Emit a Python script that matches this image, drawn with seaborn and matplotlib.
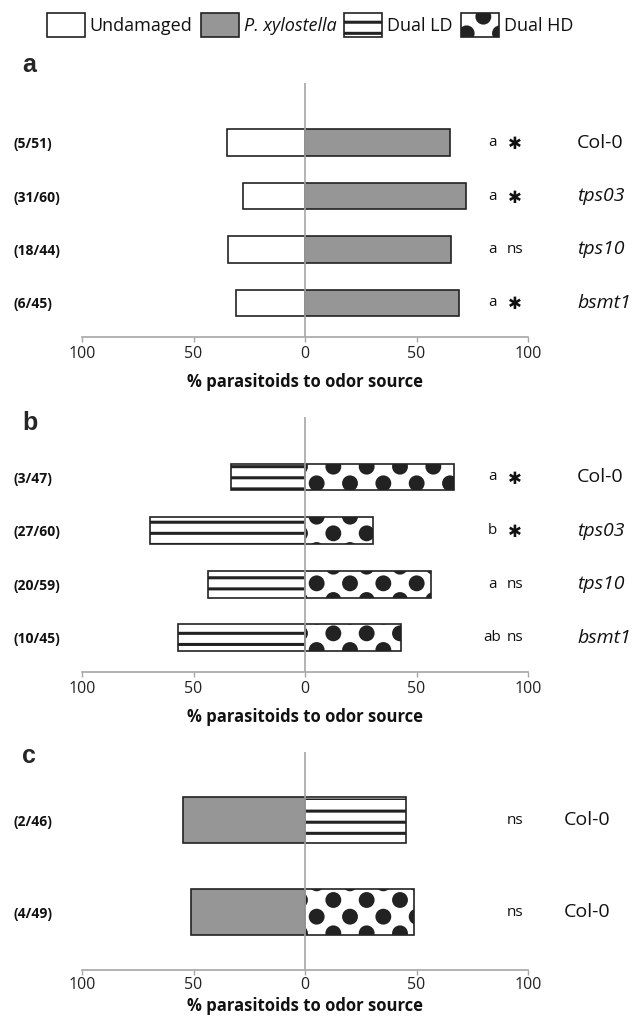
import numpy as np
import matplotlib
matplotlib.use("Agg")
import matplotlib.pyplot as plt
import matplotlib.hatch as mhatch
from matplotlib.path import Path
from matplotlib.patches import Patch
import seaborn as sns

# ---------------- data ----------------
a_counts = ["(5/51)", "(31/60)", "(18/44)", "(6/45)"]
a_genotypes = ["Col-0", "tps03", "tps10", "bsmt1"]
a_undamaged = [34.8, 27.6, 34.6, 30.8]
a_pxylostella = [65.2, 72.4, 65.4, 69.2]
a_letters = ["a", "a", "a", "a"]
a_sig = ["*", "*", "ns", "*"]

b_counts = ["(3/47)", "(27/60)", "(20/59)", "(10/45)"]
b_genotypes = ["Col-0", "tps03", "tps10", "bsmt1"]
b_dual_ld = [33.0, 69.7, 43.6, 57.1]
b_dual_hd = [67.0, 30.3, 56.4, 42.9]
b_letters = ["a", "b", "a", "ab"]
b_sig = ["*", "*", "ns", "ns"]

c_counts = ["(2/46)", "(4/49)"]
c_genotypes = ["Col-0", "Col-0"]
c_pxylostella = [54.5, 51.1]
c_dual = [45.5, 48.9]
c_sig = ["ns", "ns"]

x_ticks = [-100, -50, 0, 50, 100]
x_ticklabels = ["100", "50", "0", "50", "100"]
x_label = "% parasitoids to odor source"


# ---------------- custom hatch patterns ----------------
class Stripes(mhatch.HatchPatternBase):
    def __init__(self, hatch, density):
        self.num_lines = 9 if "-" in hatch else 0
        self.num_vertices = self.num_lines * 2

    def set_vertices_and_codes(self, vertices, codes):
        steps = np.linspace(0, 1, self.num_lines, endpoint=False)
        vertices[0::2, 0] = 0.0
        vertices[0::2, 1] = steps
        vertices[1::2, 0] = 1.0
        vertices[1::2, 1] = steps
        codes[0::2] = Path.MOVETO
        codes[1::2] = Path.LINETO


class BigDots(mhatch.HatchPatternBase):
    radius = 0.064

    def __init__(self, hatch, density):
        circ = Path.unit_circle()
        self.cv = circ.vertices
        self.cc = circ.codes
        centers = []
        if "O" in hatch:
            for r in range(7):
                yy = r / 6.0
                xs = [0, 1 / 3, 2 / 3, 1] if r % 2 == 0 else [1 / 6, 1 / 2, 5 / 6]
                for xx in xs:
                    centers.append((xx, yy))
        self.centers = centers
        self.num_vertices = len(centers) * len(self.cv)

    def set_vertices_and_codes(self, vertices, codes):
        parts_v, parts_c = [], []
        for cx, cy in self.centers:
            parts_v.append(self.cv * self.radius + [cx, cy])
            parts_c.append(self.cc)
        np.concatenate(parts_v, out=vertices)
        np.concatenate(parts_c, out=codes)


mhatch._hatch_types = [Stripes, BigDots]

# ---------------- style ----------------
sns.set_theme(style="white")
plt.rcParams["font.family"] = ["Open Sans", "DejaVu Sans"]
plt.rcParams["hatch.linewidth"] = 2.2

EDGE = "#222222"
GRAY = "#969696"
AXIS = "#a6a6a6"
TXT = "#111111"

styles = {
    "undamaged": dict(color="white", hatch=None),
    "pxyl": dict(color=GRAY, hatch=None),
    "ld": dict(color="white", hatch="-"),
    "hd": dict(color="white", hatch="O"),
}

fig = plt.figure(figsize=(6.44, 10.24), dpi=100)

L = 82 / 644
W = 446 / 644


def axes_at(top, bottom):
    return fig.add_axes([L, 1 - bottom / 1024, W, (bottom - top) / 1024])


def draw_bars(ax, cats, vals, key, sign):
    n0 = len(ax.patches)
    st = styles[key]
    sns.barplot(x=[sign * v for v in vals], y=cats, orient="h", width=0.5,
                color=st["color"], saturation=1, edgecolor=EDGE, linewidth=1.2,
                errorbar=None, ax=ax)
    for p in ax.patches[n0:]:
        if st["hatch"]:
            p.set_hatch(st["hatch"])


def style_axes(ax, cats, ylim, tick_pad=3.0, label_pad=8):
    ax.set_xlim(-100, 100)
    ax.set_ylim(*ylim)
    ax.axvline(0, color=AXIS, lw=1.2, zorder=5)
    for s in ["top", "right", "left"]:
        ax.spines[s].set_visible(False)
    ax.spines["bottom"].set_color(AXIS)
    ax.spines["bottom"].set_linewidth(1.2)
    ax.set_xticks(x_ticks)
    ax.set_xticklabels(x_ticklabels, fontsize=11.5, color="#222222")
    ax.tick_params(axis="x", direction="out", length=3.5, width=1.0,
                   color=AXIS, pad=tick_pad, bottom=True)
    ax.set_xlabel(x_label, fontsize=12, fontweight="bold", labelpad=label_pad,
                  color=TXT)
    ax.set_ylabel("")
    ax.set_yticks(range(len(cats)))
    ax.set_yticklabels(cats, fontsize=10, fontweight="bold", color=TXT)
    ax.tick_params(axis="y", length=0, pad=49, left=False)
    for t in ax.get_yticklabels():
        t.set_ha("left")


def annotate(ax, letters, sig, genotypes, geno_x):
    for i in range(len(sig)):
        if letters[i]:
            ax.text(84, i, letters[i], ha="center", va="center", fontsize=11,
                    color=TXT)
        if sig[i] == "*":
            ax.text(94, i + 0.03, "\u2731", ha="center", va="center",
                    fontsize=12, family="DejaVu Sans", color=TXT)
        else:
            ax.text(94, i, sig[i], ha="center", va="center", fontsize=11,
                    color=TXT)
        ax.text(geno_x, i, genotypes[i], ha="left", va="center", fontsize=14,
                style="normal" if genotypes[i] == "Col-0" else "italic",
                color=TXT, clip_on=False)


def tag(label, ypix):
    fig.text(22 / 644, 1 - ypix / 1024, label, fontsize=18, fontweight="bold",
             family="Liberation Sans", ha="left", va="center")


# panel a
ax_a = axes_at(83, 337)
draw_bars(ax_a, a_counts, a_undamaged, "undamaged", -1)
draw_bars(ax_a, a_counts, a_pxylostella, "pxyl", 1)
style_axes(ax_a, a_counts, (3.64, -1.12))
annotate(ax_a, a_letters, a_sig, a_genotypes, 122)
tag("a", 65)

# panel b
ax_b = axes_at(417, 672)
draw_bars(ax_b, b_counts, b_dual_ld, "ld", -1)
draw_bars(ax_b, b_counts, b_dual_hd, "hd", 1)
style_axes(ax_b, b_counts, (3.64, -1.12))
annotate(ax_b, b_letters, b_sig, b_genotypes, 122)
tag("b", 423)

# panel c: row 1 P. xylostella vs Dual LD, row 2 P. xylostella vs Dual HD
ax_c = axes_at(752, 970)
draw_bars(ax_c, c_counts, c_pxylostella, "pxyl", -1)
n0 = len(ax_c.patches)
sns.barplot(x=c_dual, y=c_counts, orient="h", width=0.5, color="white",
            saturation=1, edgecolor=EDGE, linewidth=1.2, errorbar=None, ax=ax_c)
right_hatches = [styles["ld"]["hatch"], styles["hd"]["hatch"]]
for p, h in zip(ax_c.patches[n0:], right_hatches):
    p.set_hatch(h)
style_axes(ax_c, c_counts, (1.63, -0.74), tick_pad=1.5, label_pad=3)
annotate(ax_c, ["", ""], c_sig, c_genotypes, 116)
tag("c", 756)

# ---------------- legend ----------------
handles = [
    Patch(facecolor="white", edgecolor=EDGE, linewidth=1.2, label="Undamaged"),
    Patch(facecolor=GRAY, edgecolor=EDGE, linewidth=1.2, label="P. xylostella"),
    Patch(facecolor="white", edgecolor=EDGE, linewidth=1.2, hatch="-", label="Dual LD"),
    Patch(facecolor="white", edgecolor=EDGE, linewidth=1.2, hatch="O", label="Dual HD"),
]
leg = fig.legend(handles=handles, loc="center", bbox_to_anchor=(310 / 644, 1 - 25 / 1024),
                 ncol=4, frameon=False, fontsize=13, handlelength=2.1,
                 handleheight=1.75, handletextpad=0.28, columnspacing=0.45,
                 borderpad=0, borderaxespad=0)
for t in leg.get_texts():
    t.set_color(TXT)
leg.get_texts()[1].set_style("italic")

fig.savefig("out.png", dpi=100)
